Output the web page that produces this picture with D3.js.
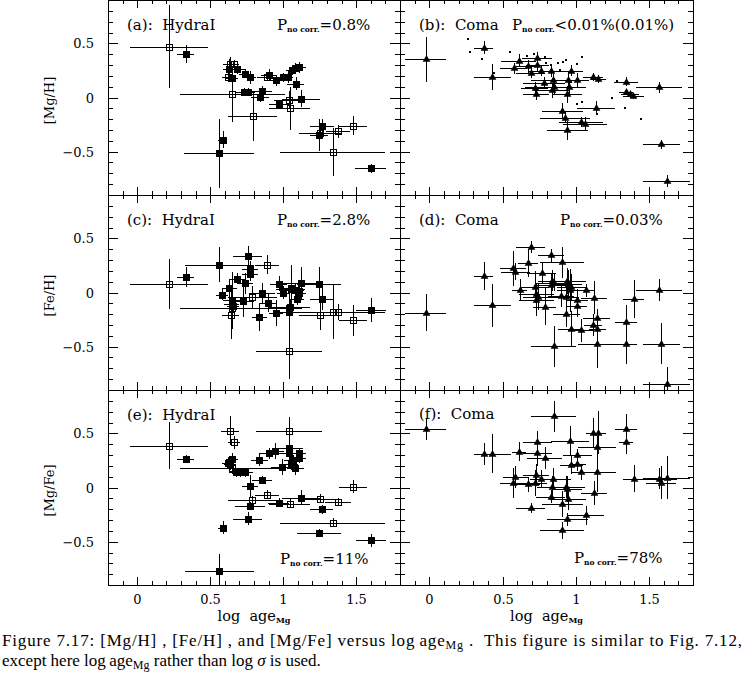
<!DOCTYPE html>
<html><head><meta charset="utf-8">
<script src="https://cdn.jsdelivr.net/npm/d3@7"></script>
<style>
body{margin:0;background:#fff;}
svg{display:block;}
text{fill:#000;white-space:pre;}
</style></head><body>
<svg id="c" width="744" height="687"></svg>
<script>
// ---------------- DATA ----------------
// each point: [log age_Mg, value, x-error, y-error]
const hydraMgH_filled = [
[0.333,0.40,0.057,0.083],[0.63,0.26,0.04,0.10],[0.685,0.26,0.05,0.04],[0.65,0.18,0.04,0.10],
[0.74,0.22,0.04,0.04],[0.775,0.185,0.04,0.06],[0.73,0.05,0.05,0.04],[0.76,0.05,0.05,0.04],
[0.84,0.005,0.06,0.05],[0.855,0.06,0.07,0.05],[0.90,0.21,0.05,0.05],[0.95,0.16,0.05,0.05],
[1.00,0.185,0.05,0.04],[1.03,0.19,0.04,0.06],[1.06,0.25,0.04,0.04],[1.08,0.27,0.04,0.05],
[1.105,0.28,0.05,0.05],[1.085,0.125,0.06,0.06],[0.97,-0.06,0.07,0.04],[1.12,-0.01,0.13,0.08],
[1.265,-0.26,0.08,0.06],[1.245,-0.345,0.06,0.15],[1.60,-0.655,0.105,0.04],[0.585,-0.39,0.03,0.08],
[0.56,-0.515,0.237,0.317]
];
const hydraMgH_open = [
[0.218,0.47,0.27,0.38],[0.635,0.31,0.05,0.06],[0.665,0.31,0.03,0.04],[0.62,0.19,0.04,0.05],
[0.65,0.03,0.36,0.26],[0.89,0.19,0.07,0.04],[0.79,-0.17,0.17,0.23],[1.04,-0.02,0.10,0.08],
[1.045,-0.10,0.14,0.20],[1.255,-0.325,0.15,0.05],[1.375,-0.31,0.08,0.06],[1.48,-0.26,0.095,0.09],
[1.34,-0.505,0.36,0.22]
];
const comaMgH = [
[-0.023,0.353,0.14,0.21],[0.372,0.461,0.065,0.06],[0.43,0.19,0.125,0.12],[0.61,0.34,0.12,0.06],
[0.575,0.27,0.09,0.05],[0.674,0.29,0.08,0.06],[0.692,0.23,0.1,0.05],[0.735,0.362,0.1,0.06],
[0.737,0.297,0.08,0.06],[0.765,0.245,0.09,0.05],[0.833,0.245,0.1,0.06],[0.845,0.16,0.15,0.06],
[0.783,0.136,0.14,0.05],[0.852,0.093,0.2,0.06],[0.719,0.084,0.09,0.06],[0.73,0.028,0.09,0.05],
[0.838,0.068,0.12,0.07],[0.97,0.248,0.08,0.05],[0.947,0.16,0.1,0.08],[1.011,0.16,0.08,0.07],
[0.952,0.093,0.12,0.06],[0.943,0.028,0.1,0.08],[1.119,0.19,0.07,0.04],[1.153,0.17,0.05,0.04],
[1.137,-0.093,0.13,0.06],[0.909,-0.124,0.14,0.07],[0.925,-0.186,0.17,0.05],[1.034,-0.226,0.15,0.05],
[1.066,-0.241,0.15,0.06],[0.943,-0.303,0.14,0.09],[1.342,0.146,0.08,0.04],[1.342,0.053,0.05,0.03],
[1.37,0.028,0.06,0.03],[1.393,0.015,0.07,0.03],[1.568,0.093,0.154,0.05],[1.582,-0.433,0.126,0.04],
[1.621,-0.768,0.16,0.055]
];
// points without error bars in panel (b)
const comaMgH_dots = [
[0.263,0.539],[0.276,0.424],[0.358,0.356],[0.548,0.424],[0.667,0.384],[0.715,0.402],[0.788,0.378],
[0.799,0.316],[0.879,0.316],[0.913,0.328],[0.932,0.344],[1.039,0.378],[1.011,0.306],[0.895,0.254],
[1.279,0.152],[1.249,-0.009],[1.336,-0.093],[1.443,-0.195],[1.039,-0.046],[1.011,-0.062],
[1.148,-0.155],[0.445,0.229],[0.97,0.146],[0.829,0.30]
];
const hydraFeH_filled = [
[0.333,0.145,0.057,0.095],[0.562,0.257,0.237,0.16],[0.757,0.34,0.1,0.085],[0.773,0.214,0.057,0.08],
[0.773,0.17,0.057,0.06],[0.686,0.127,0.05,0.05],[0.741,0.084,0.05,0.1],[0.631,0.043,0.05,0.08],
[0.583,-0.019,0.04,0.05],[0.647,-0.065,0.06,0.25],[0.647,-0.102,0.05,0.1],[0.727,-0.077,0.07,0.15],
[0.853,-0.009,0.09,0.1],[0.899,-0.096,0.06,0.08],[0.837,-0.226,0.05,0.13],[0.95,-0.189,0.05,0.12],
[0.968,0.08,0.06,0.07],[0.998,0.0,0.04,0.06],[1.053,0.037,0.08,0.22],[1.083,0.021,0.06,0.06],
[1.106,-0.009,0.05,0.07],[1.094,-0.056,0.05,0.06],[1.119,0.084,0.12,0.15],[1.037,-0.14,0.09,0.2],
[1.037,-0.18,0.1,0.08],[1.243,0.08,0.15,0.16],[1.264,-0.059,0.08,0.1],[1.601,-0.158,0.105,0.11]
];
const hydraFeH_open = [
[0.218,0.077,0.27,0.23],[0.888,0.257,0.08,0.09],[0.789,-0.04,0.17,0.1],[0.64,-0.21,0.06,0.22],
[0.651,-0.139,0.36,0.2],[0.658,-0.12,0.04,0.05],[1.037,-0.536,0.226,0.26],[1.044,-0.133,0.14,0.06],
[1.05,0.036,0.1,0.05],[1.255,-0.21,0.15,0.14],[1.34,-0.18,0.36,0.25],[1.374,-0.18,0.06,0.07],
[1.48,-0.257,0.095,0.14]
];
const comaFeH = [
[-0.023,-0.187,0.14,0.17],[0.372,0.154,0.065,0.13],[0.43,-0.118,0.125,0.2],[0.692,0.424,0.1,0.055],
[0.571,0.222,0.09,0.16],[0.587,0.191,0.1,0.08],[0.674,0.269,0.07,0.13],[0.616,0.021,0.05,0.1],
[0.767,0.176,0.1,0.1],[0.831,0.346,0.09,0.06],[0.906,0.278,0.15,0.14],[0.84,0.11,0.1,0.1],
[0.85,0.09,0.12,0.08],[0.83,0.07,0.11,0.1],[0.72,0.05,0.1,0.15],[0.73,-0.01,0.12,0.1],
[0.74,-0.04,0.1,0.12],[0.73,-0.07,0.12,0.15],[0.788,-0.133,0.08,0.17],[0.94,0.11,0.13,0.12],
[0.945,0.08,0.1,0.13],[0.97,0.05,0.1,0.12],[0.96,0.02,0.09,0.2],[0.9,-0.03,0.09,0.1],
[0.93,-0.04,0.09,0.12],[1.01,-0.07,0.07,0.1],[1.005,-0.127,0.07,0.1],[1.068,0.021,0.06,0.06],
[1.126,-0.047,0.09,0.15],[0.936,-0.2,0.09,0.12],[1.142,-0.232,0.09,0.08],[1.119,-0.303,0.06,0.1],
[1.148,-0.334,0.06,0.1],[0.966,-0.334,0.085,0.16],[1.034,-0.35,0.09,0.11],[0.849,-0.498,0.153,0.186],
[1.142,-0.479,0.13,0.22],[1.342,-0.272,0.075,0.155],[1.342,-0.479,0.075,0.18],[1.395,-0.062,0.07,0.175],
[1.568,0.021,0.154,0.1],[1.582,-0.473,0.126,0.19],[1.621,-0.845,0.16,0.16]
];
const hydraMgFe_filled = [
[0.333,0.263,0.057,0.04],[0.562,-0.768,0.237,0.15],[0.585,-0.372,0.03,0.06],[0.62,0.23,0.04,0.05],
[0.635,0.215,0.04,0.05],[0.651,0.26,0.04,0.06],[0.68,0.14,0.05,0.04],[0.705,0.14,0.05,0.04],
[0.74,0.14,0.05,0.04],[0.773,0.015,0.057,0.1],[0.855,0.068,0.07,0.04],[0.837,0.256,0.06,0.06],
[0.90,0.315,0.06,0.05],[0.945,0.337,0.06,0.07],[0.995,0.189,0.08,0.07],[1.037,0.368,0.1,0.2],
[1.037,0.315,0.07,0.06],[1.066,0.254,0.06,0.05],[1.053,0.213,0.05,0.05],[1.083,0.18,0.06,0.06],
[1.106,0.315,0.05,0.05],[1.106,0.275,0.05,0.05],[1.119,-0.096,0.13,0.07],[0.968,-0.139,0.07,0.04],
[0.773,-0.17,0.1,0.04],[0.757,-0.288,0.1,0.06],[1.264,-0.201,0.08,0.04],[1.243,-0.421,0.15,0.04],
[1.601,-0.489,0.105,0.06]
];
const hydraMgFe_open = [
[0.218,0.387,0.27,0.22],[0.635,0.526,0.06,0.13],[0.665,0.417,0.04,0.06],[0.651,0.176,0.36,0.05],
[1.037,0.517,0.226,0.13],[0.789,-0.118,0.17,0.04],[0.888,-0.065,0.08,0.04],[1.044,-0.149,0.14,0.04],
[1.255,-0.102,0.15,0.04],[1.374,-0.133,0.09,0.04],[1.339,-0.325,0.36,0.04],[1.479,0.006,0.095,0.06]
];
const comaMgFe = [
[-0.023,0.541,0.14,0.1],[0.372,0.31,0.068,0.1],[0.43,0.31,0.125,0.18],[0.612,0.331,0.046,0.09],
[0.737,0.418,0.1,0.1],[0.737,0.315,0.1,0.12],[0.788,0.275,0.12,0.1],[0.849,0.656,0.153,0.14],
[0.963,0.429,0.13,0.14],[1.011,0.3,0.1,0.06],[0.97,0.207,0.08,0.08],[1.011,0.213,0.06,0.06],
[1.034,0.139,0.07,0.07],[1.119,0.501,0.05,0.14],[1.153,0.507,0.05,0.2],[1.142,0.377,0.13,0.1],
[1.142,0.139,0.13,0.18],[1.342,0.541,0.075,0.14],[1.342,0.418,0.05,0.11],[1.395,0.083,0.07,0.125],
[1.568,0.083,0.126,0.1],[1.582,0.046,0.1,0.15],[1.621,0.09,0.16,0.2],[0.587,0.099,0.085,0.1],
[0.571,0.043,0.09,0.14],[0.674,0.031,0.08,0.07],[0.73,0.115,0.09,0.1],[0.724,0.046,0.08,0.12],
[0.765,0.077,0.08,0.08],[0.845,0.077,0.12,0.1],[0.838,0.006,0.1,0.1],[0.936,0.006,0.13,0.1],
[0.943,-0.01,0.1,0.12],[0.947,-0.108,0.12,0.1],[0.909,-0.149,0.14,0.12],[0.829,-0.087,0.1,0.06],
[1.126,-0.047,0.09,0.11],[0.692,-0.189,0.1,0.05],[1.068,-0.257,0.125,0.085],[0.943,-0.294,0.14,0.06],
[0.909,-0.396,0.15,0.075]
];

const panelTags  = ["(a): HydraI","(b): Coma","(c): HydraI","(d): Coma","(e): HydraI","(f): Coma"];
const panelProbs = ["=0.8%","<0.01%(0.01%)","=2.8%","=0.03%","=11%","=78%"];
const yLabels = ["[Mg/H]","[Fe/H]","[Mg/Fe]"];
const xMajorTicks = [0,0.5,1,1.5];
const xTickLabels = ["0","0.5","1","1.5"];
const yMajorTicks = [-0.5,0,0.5];
const yTickLabels = ["\u22120.5","0","0.5"];

// ---------------- LAYOUT ----------------
const svg = d3.select("#c");
const cols = [[108,400],[400,693]];
const rows = [[0,195],[195,390],[390,585]];
const SER = "'DejaVu Serif', serif";
const xMinor = d3.range(-1,18).map(i=>i/10).filter(v=>!xMajorTicks.some(m=>Math.abs(m-v)<1e-6));
const yMinor = d3.range(-8,9).map(i=>i/10).filter(v=>!yMajorTicks.some(m=>Math.abs(m-v)<1e-6));

const panels = [
 {c:0,r:0,filled:hydraMgH_filled,open:hydraMgH_open,tri:[],dots:[],tag:[127,30],prob:[277,30]},
 {c:1,r:0,filled:[],open:[],tri:comaMgH,dots:comaMgH_dots,tag:[419,30],prob:[512,30]},
 {c:0,r:1,filled:hydraFeH_filled,open:hydraFeH_open,tri:[],dots:[],tag:[127,225],prob:[277,225]},
 {c:1,r:1,filled:[],open:[],tri:comaFeH,dots:[],tag:[419,225],prob:[560,225]},
 {c:0,r:2,filled:hydraMgFe_filled,open:hydraMgFe_open,tri:[],dots:[],tag:[127,420],prob:[280,564]},
 {c:1,r:2,filled:[],open:[],tri:comaMgFe,dots:[],tag:[419,419],prob:[574,563]}
];

panels.forEach((p,i)=>{
  const [x0,x1] = cols[p.c], [y0,y1] = rows[p.r];
  const x = d3.scaleLinear().domain([-0.2,1.8]).range([x0,x1]).interpolate(d3.interpolateRound);
  const y = d3.scaleLinear().domain([-0.9,0.9]).range([y1,y0]).interpolate(d3.interpolateRound);
  const g = svg.append("g");
  const cid = "clip"+i;
  svg.append("clipPath").attr("id",cid).append("rect")
     .attr("x",x0).attr("y",y0).attr("width",x1-x0+1).attr("height",y1-y0+1);
  const m = g.append("g").attr("clip-path",`url(#${cid})`);
  const all = p.filled.concat(p.open, p.tri);
  // error bars
  m.selectAll("line.h").data(all).join("line")
    .attr("x1",d=>x(d[0]-d[2])).attr("x2",d=>x(d[0]+d[2]))
    .attr("y1",d=>y(d[1])+0.5).attr("y2",d=>y(d[1])+0.5)
    .attr("stroke","#000").attr("stroke-width",1);
  m.selectAll("line.v").data(all).join("line")
    .attr("x1",d=>x(d[0])+0.5).attr("x2",d=>x(d[0])+0.5)
    .attr("y1",d=>y(d[1]-d[3])).attr("y2",d=>y(d[1]+d[3]))
    .attr("stroke","#000").attr("stroke-width",1);
  // markers
  m.selectAll("rect.f").data(p.filled).join("rect")
    .attr("x",d=>x(d[0])-3).attr("y",d=>y(d[1])-3).attr("width",7).attr("height",7).attr("fill","#000");
  m.selectAll("rect.o").data(p.open).join("rect")
    .attr("x",d=>x(d[0])-2.5).attr("y",d=>y(d[1])-2.5).attr("width",6).attr("height",6)
    .attr("fill","none").attr("stroke","#000").attr("stroke-width",1);
  const tri = d3.symbol(d3.symbolTriangle, 26);
  m.selectAll("path.t").data(p.tri).join("path")
    .attr("transform",d=>`translate(${x(d[0])+0.5},${y(d[1])+0.5})`).attr("d",tri).attr("fill","#000");
  m.selectAll("rect.d").data(p.dots).join("rect")
    .attr("x",d=>x(d[0])-1).attr("y",d=>y(d[1])-1).attr("width",2).attr("height",2).attr("fill","#000");

  // ticks on all four sides, pointing inward
  const axes = [
    [d3.axisBottom(x).tickValues(xMinor).tickSize(-4), `translate(0,${y1})`],
    [d3.axisBottom(x).tickValues(xMajorTicks).tickSize(-8), `translate(0,${y1})`],
    [d3.axisTop(x).tickValues(xMinor).tickSize(-4), `translate(0,${y0})`],
    [d3.axisTop(x).tickValues(xMajorTicks).tickSize(-8), `translate(0,${y0})`],
    [d3.axisLeft(y).tickValues(yMinor).tickSize(-5), `translate(${x0},0)`],
    [d3.axisLeft(y).tickValues(yMajorTicks).tickSize(-10), `translate(${x0},0)`],
    [d3.axisRight(y).tickValues(yMinor).tickSize(-5), `translate(${x1},0)`],
    [d3.axisRight(y).tickValues(yMajorTicks).tickSize(-10), `translate(${x1},0)`]
  ];
  axes.forEach(([ax,tr])=>{
    const a = g.append("g").attr("transform",tr).call(ax.tickFormat(""));
    a.select(".domain").remove();
    a.selectAll("line").attr("stroke","#000");
  });
  // labelled axes
  if(p.c===0){
    const a = g.append("g").attr("transform",`translate(${x0},0)`)
      .call(d3.axisLeft(y).tickValues(yMajorTicks).tickSize(0).tickPadding(14)
        .tickFormat((d,k)=>yTickLabels[k]));
    a.select(".domain").remove();
    a.attr("font-family",SER).attr("font-size",13);
    a.selectAll("text").attr("dy","0.33em");
  }
  if(p.r===2){
    const a = g.append("g").attr("transform",`translate(0,${y1})`)
      .call(d3.axisBottom(x).tickValues(xMajorTicks).tickSize(0).tickPadding(0)
        .tickFormat((d,k)=>xTickLabels[k]));
    a.select(".domain").remove();
    a.attr("font-family",SER).attr("font-size",13);
    a.selectAll("text").attr("dy",0).attr("y",18.5);
    const xl = svg.append("text").attr("x",(x0+x1)/2).attr("y",621).attr("text-anchor","middle")
      .attr("font-family",SER).attr("font-size",14.5);
    xl.append("tspan").text("log\u00a0\u00a0age");
    xl.append("tspan").attr("font-size",8).attr("font-weight","bold").attr("dy",2).text("Mg");
  }
  // border
  g.append("rect").attr("x",x0+0.5).attr("y",y0+0.5).attr("width",x1-x0).attr("height",y1-y0)
    .attr("fill","none").attr("stroke","#000").attr("stroke-width",1);

  // panel texts
  svg.append("text").attr("x",p.tag[0]).attr("y",p.tag[1]).attr("font-family",SER).attr("font-size",15)
    .text(panelTags[i].replace(": ",":\u00a0 "));
  const pt = svg.append("text").attr("x",p.prob[0]).attr("y",p.prob[1]).attr("font-family",SER).attr("font-size",15);
  pt.append("tspan").text("P");
  pt.append("tspan").attr("font-size",7.5).attr("font-weight","bold").attr("dy",2).text("no corr.");
  pt.append("tspan").attr("dy",-2).text(panelProbs[i]);
});

// y-axis titles
yLabels.forEach((t,k)=>{
  const [y0,y1] = rows[k];
  svg.append("text").attr("transform",`translate(54,${(y0+y1)/2+3}) rotate(-90)`)
    .attr("text-anchor","middle").attr("font-family",SER).attr("font-size",13).text(t);
});

// caption
const CAP = "'Liberation Serif', 'Times New Roman', serif";
const c1 = svg.append("text").attr("x",2).attr("y",646).attr("font-family",CAP).attr("font-size",17)
  .attr("textLength",740).attr("lengthAdjust","spacing");
c1.append("tspan").text("Figure 7.17: [Mg/H] , [Fe/H] , and [Mg/Fe] versus log\u2009age");
c1.append("tspan").attr("font-size",12).attr("dy",3).text("Mg");
c1.append("tspan").attr("dy",-3).text(" .  This figure is similar to Fig. 7.12,");
const c2 = svg.append("text").attr("x",2).attr("y",666).attr("font-family",CAP).attr("font-size",17);
c2.append("tspan").text("except here log\u2009age");
c2.append("tspan").attr("font-size",12).attr("dy",3).text("Mg");
c2.append("tspan").attr("dy",-3).text(" rather than log ");
c2.append("tspan").attr("font-style","italic").text("\u03c3");
c2.append("tspan").text(" is used.");
</script>
</body></html>
